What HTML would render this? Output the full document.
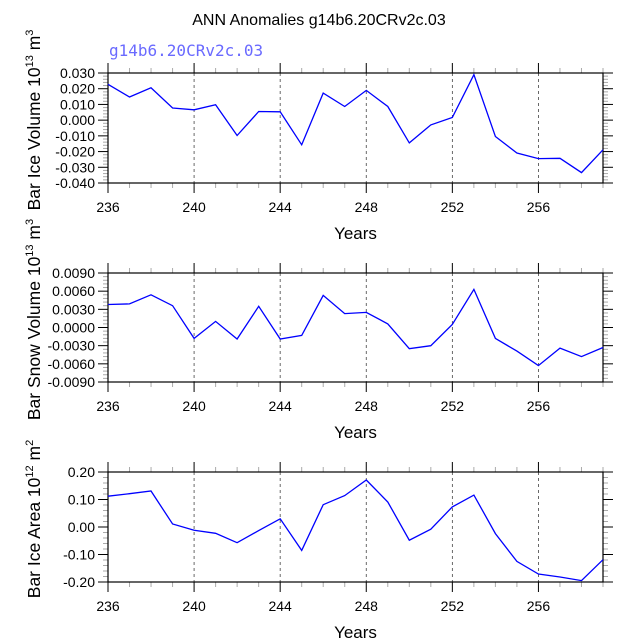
<!DOCTYPE html>
<html><head><meta charset="utf-8"><style>
html,body{margin:0;padding:0;background:#fff;}
svg{display:block;font-family:"Liberation Sans",sans-serif;}
</style></head><body>
<svg id="chart" width="638" height="638" viewBox="0 0 638 638">
<text x="319" y="25" text-anchor="middle" font-size="16" fill="#000">ANN Anomalies g14b6.20CRv2c.03</text>
<text x="109" y="56" font-size="16" fill="#6a6aff" font-family="'DejaVu Sans Mono','Liberation Mono',monospace">g14b6.20CRv2c.03</text>
<g id="panels"></g>
</svg>
<script>
const years = [236,237,238,239,240,241,242,243,244,245,246,247,248,249,250,251,252,253,254,255,256,257,258,259];
const xTicks = [236,240,244,248,252,256];
const iceVolume = [0.0228,0.0147,0.0206,0.0077,0.0066,0.0098,-0.0098,0.0055,0.0053,-0.0157,0.0172,0.0087,0.0189,0.0087,-0.0145,-0.0030,0.0017,0.0289,-0.0104,-0.0209,-0.0245,-0.0243,-0.0334,-0.0189];
const snowVolume = [0.0038,0.0039,0.0054,0.0036,-0.0018,0.0010,-0.0019,0.0035,-0.0019,-0.0013,0.0053,0.0023,0.0025,0.0006,-0.0035,-0.0030,0.0005,0.0063,-0.0018,-0.0039,-0.0063,-0.0034,-0.0048,-0.0033];
const iceArea = [0.112,0.121,0.131,0.011,-0.012,-0.023,-0.057,-0.013,0.030,-0.085,0.081,0.114,0.171,0.091,-0.048,-0.008,0.073,0.116,-0.024,-0.125,-0.171,-0.182,-0.195,-0.119];
const iceVolTicks = ["0.030","0.020","0.010","0.000","-0.010","-0.020","-0.030","-0.040"];
const snowTicks = ["0.0090","0.0060","0.0030","0.0000","-0.0030","-0.0060","-0.0090"];
const areaTicks = ["0.20","0.10","0.00","-0.10","-0.20"];

const NS="http://www.w3.org/2000/svg";
const root=document.getElementById('panels');
function mk(tag,attrs,parent){const e=document.createElementNS(NS,tag);for(const k in attrs)e.setAttribute(k,attrs[k]);(parent||root).appendChild(e);return e;}

const X0=108,X1=603,xmin=236,xmax=259;
function xs(v){return X0+(v-xmin)/(xmax-xmin)*(X1-X0);}

function panel(name,top,bottom,vals,ticks,title,sup,unit,unitSup){
  const g=mk('g',{});
  
  
  const tv=ticks.map(Number);
  const ymax=tv[0],ymin=tv[tv.length-1];
  const ys=v=>top+(ymax-v)/(ymax-ymin)*(bottom-top);
  xTicks.forEach(t=>{if(t>xmin&&t<xmax){const l=mk('line',{x1:xs(t),x2:xs(t),y1:top,y2:bottom,stroke:'#444','stroke-width':0.8,'stroke-dasharray':'3,3'},g);
    
    }});
  years.forEach(y=>{if(!xTicks.includes(y)){mk('line',{x1:xs(y),x2:xs(y),y1:top,y2:top-5,stroke:'#aaa','stroke-width':1},g);mk('line',{x1:xs(y),x2:xs(y),y1:bottom,y2:bottom+5,stroke:'#aaa','stroke-width':1},g);}});
  xTicks.forEach(t=>{mk('line',{x1:xs(t),x2:xs(t),y1:top,y2:top-10,stroke:'#000','stroke-width':1},g);mk('line',{x1:xs(t),x2:xs(t),y1:bottom,y2:bottom+10,stroke:'#000','stroke-width':1},g);
    const tx=mk('text',{x:xs(t),y:bottom+29,'text-anchor':'middle','font-size':14},g);tx.textContent=t;
    
    });
  const step=tv[0]-tv[1];
  for(let i=0;i<tv.length;i++){const y=ys(tv[i]);
    mk('line',{x1:X0,x2:X0-10,y1:y,y2:y,stroke:'#000','stroke-width':1},g);
    mk('line',{x1:X1,x2:X1+10,y1:y,y2:y,stroke:'#000','stroke-width':1},g);
    const tx=mk('text',{x:X0-13,y:y+5,'text-anchor':'end','font-size':14},g);tx.textContent=ticks[i];
    
    
    if(i<tv.length-1){for(let k=1;k<5;k++){const yy=ys(tv[i]-step*k/5);
      mk('line',{x1:X0,x2:X0-5,y1:yy,y2:yy,stroke:'#aaa','stroke-width':1},g);
      mk('line',{x1:X1,x2:X1+5,y1:yy,y2:yy,stroke:'#aaa','stroke-width':1},g);}}
  }
  const box=mk('rect',{x:X0,y:top,width:X1-X0,height:bottom-top,fill:'none',stroke:'#000','stroke-width':1.2},g);
  
  
  const pts=vals.map((v,i)=>xs(years[i]).toFixed(1)+','+ys(v).toFixed(1)).join(' ');
  const pl=mk('polyline',{points:pts,fill:'none',stroke:'#0000ff','stroke-width':1.3},g);
  
  
  const xt=mk('text',{x:(X0+X1)/2,y:bottom+56,'text-anchor':'middle','font-size':17},g);xt.textContent='Years';
  
  
  const cy=(top+bottom)/2-8;
  const yt=mk('text',{transform:`translate(40,${cy}) rotate(-90)`,'text-anchor':'middle','font-size':17.5},g);
  yt.innerHTML=`${title} 10<tspan dy="-7" font-size="11">${sup}</tspan><tspan dy="7"> ${unit}</tspan><tspan dy="-7" font-size="11">${unitSup}</tspan>`;
  
  
}
panel('ice-volume',73,183,iceVolume,iceVolTicks,'Bar Ice Volume','13','m','3');
panel('snow-volume',273,382,snowVolume,snowTicks,'Bar Snow Volume','13','m','3');
panel('ice-area',472,582,iceArea,areaTicks,'Bar Ice Area','12','m','2');
</script>
</body></html>
